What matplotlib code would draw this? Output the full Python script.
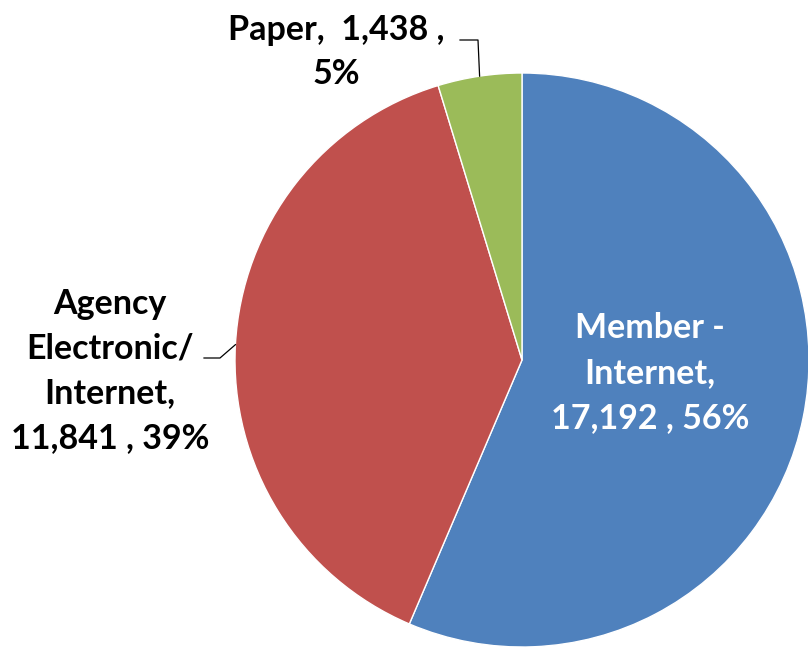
import numpy as np
import matplotlib
matplotlib.use("Agg")
import matplotlib.pyplot as plt

# ------------------------------------------------------------
# data
# ------------------------------------------------------------
categories = ["Member -\nInternet,", "Agency\nElectronic/\nInternet,", "Paper,"]
counts = [17192, 11841, 1438]
colors = ["#4F81BD", "#C0504D", "#9BBB59"]

plt.rcParams["font.family"] = ["Lato", "DejaVu Sans"]

W, H = 808, 654
fig = plt.figure(figsize=(W / 100, H / 100), dpi=100)
ax = fig.add_axes([0, 0, 1, 1])

center = (522, 294)
radius = 287

wedges, _ = ax.pie(counts, colors=colors, startangle=90, counterclock=False,
                   center=center, radius=radius, frame=True,
                   wedgeprops=dict(edgecolor="white", linewidth=1))
ax.set_xlim(0, W)
ax.set_ylim(0, H)
ax.set_aspect("equal")
ax.axis("off")

total = sum(counts)
pct = [round(100 * c / total) for c in counts]


def edge_point(w):
    ang = np.deg2rad((w.theta1 + w.theta2) / 2)
    return center[0] + radius * np.cos(ang), center[1] + radius * np.sin(ang)


fs = 24.5
kw = dict(ha="center", va="center", fontsize=fs, fontweight="bold",
          multialignment="center", linespacing=1.5)

# Member - inside the slice
ax.text(650, H - 373, f"{categories[0]}\n{counts[0]:,} , {pct[0]}%",
        color="white", **kw)

# Agency - left, with leader line
ax.text(110, H - 371, f"{categories[1]}\n{counts[1]:,} , {pct[1]}%",
        color="black", **kw)
ex, ey = edge_point(wedges[1])
ax.plot([204, 220, ex], [H - 358, H - 358, ey], color="black", lw=0.9)

# Paper - top, with leader line
ax.text(336, H - 52, f"{categories[2]}  {counts[2]:,} ,\n{pct[2]}%",
        color="black", **kw)
ex, ey = edge_point(wedges[2])
ax.plot([460, 478, ex], [H - 40, H - 40, ey], color="black", lw=0.9)

fig.savefig("out.png", dpi=100)
